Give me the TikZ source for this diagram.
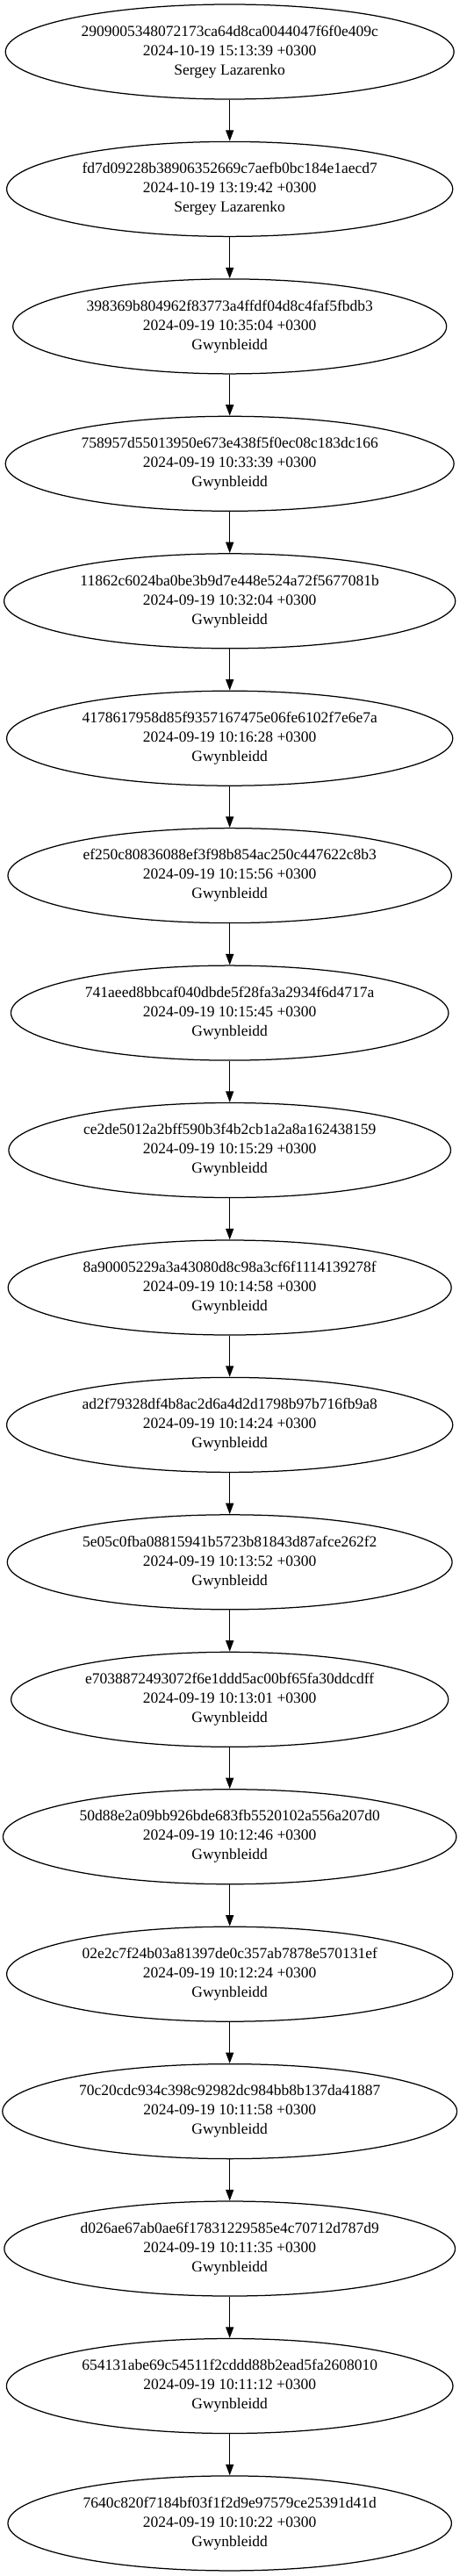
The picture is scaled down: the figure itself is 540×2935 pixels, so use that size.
\documentclass[tikz,border=0pt]{standalone}
\usepackage{fontspec}
\setmainfont{Liberation Serif}
\usetikzlibrary{arrows.meta,shapes.geometric}
\tikzset{
  commit/.style={draw, ellipse, line width=1.25pt, inner xsep=11.5pt, inner ysep=2pt,
    minimum height=108pt, align=center,
    font=\fontsize{17.5pt}{22pt}\selectfont},
  link/.style={line width=1.25pt, -{Triangle[length=12.5pt,width=9pt]}}
}
\begin{document}
\begin{tikzpicture}[x=1pt,y=1pt]
\useasboundingbox (0,0) rectangle (540,-2935);
\def\cx{261.7}
\node[commit] (n1) at (\cx,-59.0) {2909005348072173ca64d8ca0044047f6f0e409c\\2024-10-19 15:13:39 +0300\\Sergey Lazarenko};
\node[commit] (n2) at (\cx,-215.4) {fd7d09228b38906352669c7aefb0bc184e1aecd7\\2024-10-19 13:19:42 +0300\\Sergey Lazarenko};
\node[commit] (n3) at (\cx,-371.9) {398369b804962f83773a4ffdf04d8c4faf5fbdb3\\2024-09-19 10:35:04 +0300\\Gwynbleidd};
\node[commit] (n4) at (\cx,-528.3) {758957d55013950e673e438f5f0ec08c183dc166\\2024-09-19 10:33:39 +0300\\Gwynbleidd};
\node[commit] (n5) at (\cx,-684.8) {11862c6024ba0be3b9d7e448e524a72f5677081b\\2024-09-19 10:32:04 +0300\\Gwynbleidd};
\node[commit] (n6) at (\cx,-841.2) {4178617958d85f9357167475e06fe6102f7e6e7a\\2024-09-19 10:16:28 +0300\\Gwynbleidd};
\node[commit] (n7) at (\cx,-997.6) {ef250c80836088ef3f98b854ac250c447622c8b3\\2024-09-19 10:15:56 +0300\\Gwynbleidd};
\node[commit] (n8) at (\cx,-1154.1) {741aeed8bbcaf040dbde5f28fa3a2934f6d4717a\\2024-09-19 10:15:45 +0300\\Gwynbleidd};
\node[commit] (n9) at (\cx,-1310.5) {ce2de5012a2bff590b3f4b2cb1a2a8a162438159\\2024-09-19 10:15:29 +0300\\Gwynbleidd};
\node[commit] (n10) at (\cx,-1467.0) {8a90005229a3a43080d8c98a3cf6f1114139278f\\2024-09-19 10:14:58 +0300\\Gwynbleidd};
\node[commit] (n11) at (\cx,-1623.4) {ad2f79328df4b8ac2d6a4d2d1798b97b716fb9a8\\2024-09-19 10:14:24 +0300\\Gwynbleidd};
\node[commit] (n12) at (\cx,-1779.8) {5e05c0fba08815941b5723b81843d87afce262f2\\2024-09-19 10:13:52 +0300\\Gwynbleidd};
\node[commit] (n13) at (\cx,-1936.3) {e7038872493072f6e1ddd5ac00bf65fa30ddcdff\\2024-09-19 10:13:01 +0300\\Gwynbleidd};
\node[commit] (n14) at (\cx,-2092.7) {50d88e2a09bb926bde683fb5520102a556a207d0\\2024-09-19 10:12:46 +0300\\Gwynbleidd};
\node[commit] (n15) at (\cx,-2249.2) {02e2c7f24b03a81397de0c357ab7878e570131ef\\2024-09-19 10:12:24 +0300\\Gwynbleidd};
\node[commit] (n16) at (\cx,-2405.6) {70c20cdc934c398c92982dc984bb8b137da41887\\2024-09-19 10:11:58 +0300\\Gwynbleidd};
\node[commit] (n17) at (\cx,-2562.0) {d026ae67ab0ae6f17831229585e4c70712d787d9\\2024-09-19 10:11:35 +0300\\Gwynbleidd};
\node[commit] (n18) at (\cx,-2718.5) {654131abe69c54511f2cddd88b2ead5fa2608010\\2024-09-19 10:11:12 +0300\\Gwynbleidd};
\node[commit] (n19) at (\cx,-2874.9) {7640c820f7184bf03f1f2d9e97579ce25391d41d\\2024-09-19 10:10:22 +0300\\Gwynbleidd};
\foreach \a/\b in {1/2,2/3,3/4,4/5,5/6,6/7,7/8,8/9,9/10,10/11,11/12,12/13,13/14,14/15,15/16,16/17,17/18,18/19}
  \draw[link] (n\a) -- (n\b);
\end{tikzpicture}
\end{document}
